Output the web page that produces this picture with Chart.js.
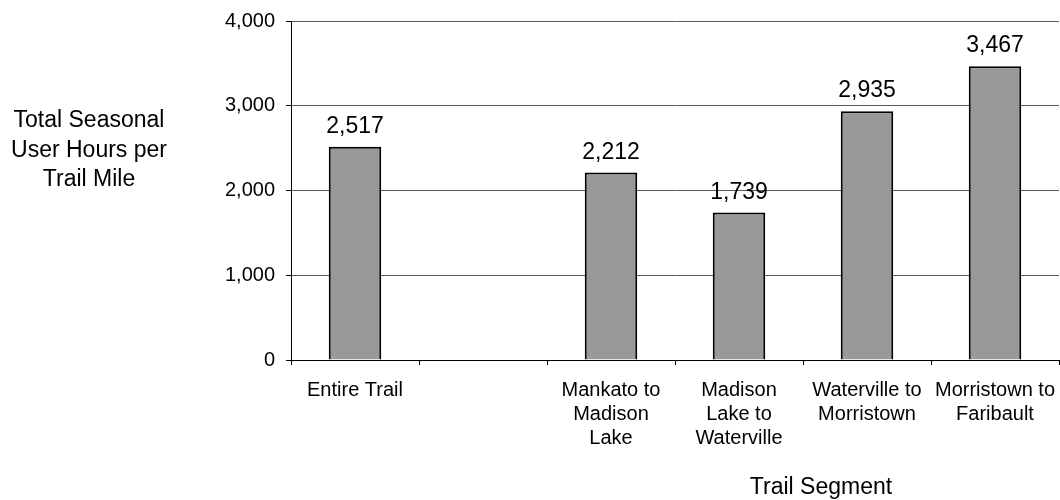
<!DOCTYPE html>
<html>
<head>
<meta charset="utf-8">
<script src="https://cdn.jsdelivr.net/npm/chart.js@4.4.1/dist/chart.umd.min.js"></script>
<style>
  html, body { margin: 0; padding: 0; background: #ffffff; }
  #wrap { width: 1060px; height: 500px; position: relative; }
</style>
</head>
<body>
<div id="wrap"><canvas id="c" width="1060" height="500"></canvas></div>
<script>
const categories = [
  ["Entire Trail"],
  [""],
  ["Mankato to", "Madison", "Lake"],
  ["Madison", "Lake to", "Waterville"],
  ["Waterville to", "Morristown"],
  ["Morristown to", "Faribault"]
];
const userHours = [2517, null, 2212, 1739, 2935, 3467];
const yTicks = [0, 1000, 2000, 3000, 4000];
const yTitleLines = ["Total Seasonal", "User Hours per", "Trail Mile"];
const xTitle = "Trail Segment";

const FONT = "'Liberation Sans', Arial, Helvetica, sans-serif";
const fmt = v => Number(v).toLocaleString('en-US');

const labelPlugin = {
  id: 'valueLabels',
  afterDatasetsDraw(chart) {
    const ctx = chart.ctx;
    const meta = chart.getDatasetMeta(0);
    ctx.save();
    ctx.font = "23px " + FONT;
    ctx.fillStyle = '#000';
    ctx.textAlign = 'center';
    ctx.textBaseline = 'alphabetic';
    meta.data.forEach((bar, i) => {
      const v = chart.data.datasets[0].data[i];
      if (v === null || v === undefined) return;
      ctx.fillText(fmt(v), bar.x, bar.y - 14);
    });
    ctx.restore();
  }
};

const titlePlugin = {
  id: 'axisTitles',
  afterDraw(chart) {
    const ctx = chart.ctx;
    ctx.save();
    ctx.font = "23px " + FONT;
    ctx.fillStyle = '#000';
    ctx.textAlign = 'center';
    ctx.textBaseline = 'middle';
    yTitleLines.forEach((t, i) => ctx.fillText(t, 89, 121 + i * 29.5));
    ctx.fillText(xTitle, 821, 488);
    ctx.restore();
  }
};

new Chart(document.getElementById('c'), {
  type: 'bar',
  data: {
    labels: categories,
    datasets: [{
      data: userHours,
      backgroundColor: '#999999',
      borderColor: '#000000',
      borderWidth: 2,
      categoryPercentage: 1.0,
      barPercentage: 0.41
    }]
  },
  options: {
    responsive: false,
    animation: false,
    devicePixelRatio: 1,
    layout: { padding: { left: 0, right: 1, top: 21, bottom: 0 } },
    plugins: {
      legend: { display: false },
      tooltip: { enabled: false },
      title: { display: false }
    },
    scales: {
      x: {
        offset: true,
        grid: {
          display: true,
          offset: true,
          drawOnChartArea: false,
          drawTicks: true,
          tickLength: 5,
          color: '#000000'
        },
        border: { display: true, color: '#000000', width: 1 },
        ticks: {
          color: '#000000',
          font: { family: FONT, size: 20, lineHeight: 1.2 },
          padding: 13,
          maxRotation: 0,
          minRotation: 0,
          autoSkip: false
        },
        afterFit(scale) {
          scale.height = 140;
          scale.paddingLeft = 0;
          scale.paddingRight = 0;
        }
      },
      y: {
        min: 0,
        max: 4000,
        afterBuildTicks(scale) { scale.ticks = yTicks.map(v => ({ value: v })); },
        grid: {
          color: '#5a5a5a',
          lineWidth: 1,
          drawTicks: true,
          tickLength: 5,
          tickColor: '#000000'
        },
        border: { display: true, color: '#000000', width: 1 },
        ticks: {
          color: '#000000',
          font: { family: FONT, size: 20 },
          padding: 11,
          callback: v => fmt(v)
        },
        afterFit(scale) {
          scale.width = 291;
          scale.paddingTop = 0;
          scale.paddingBottom = 0;
        }
      }
    }
  },
  plugins: [labelPlugin, titlePlugin]
});
</script>
</body>
</html>
